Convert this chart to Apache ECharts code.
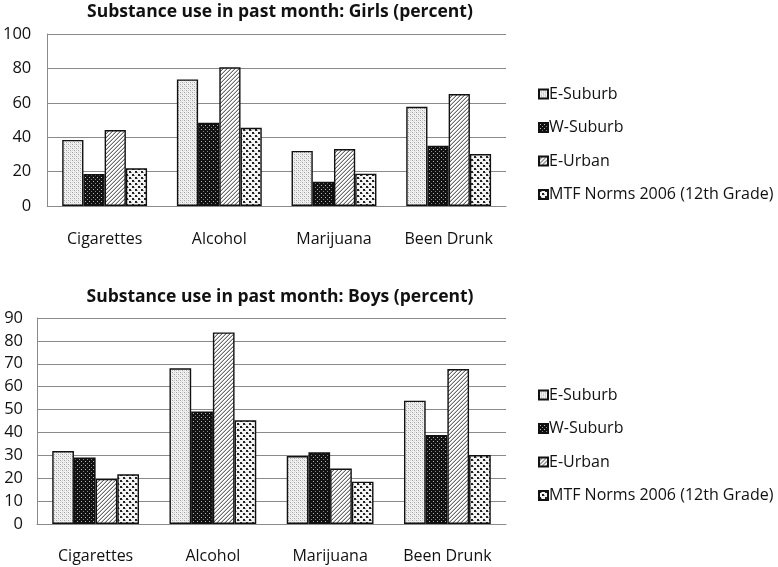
<!DOCTYPE html>
<html>
<head>
<meta charset="utf-8">
<script src="https://cdn.jsdelivr.net/npm/echarts@6/dist/echarts.min.js"></script>
<style>html,body{margin:0;padding:0;background:#fff}#c{width:778px;height:567px}</style>
</head>
<body>
<div id="c"></div>
<script>
var categories = ['Cigarettes', 'Alcohol', 'Marijuana', 'Been Drunk'];
var seriesNames = ['E-Suburb', 'W-Suburb', 'E-Urban', 'MTF Norms 2006 (12th Grade)'];
var girlsESuburb = [38.4, 73.6, 32, 57.7];
var girlsWSuburb = [18.6, 48.4, 14.1, 35];
var girlsEUrban = [44.2, 80.6, 33.1, 65.1];
var girlsMTF = [21.9, 45.5, 18.8, 30.2];
var boysESuburb = [31.9, 68, 29.7, 53.9];
var boysWSuburb = [29, 49.1, 31.3, 38.9];
var boysEUrban = [19.7, 83.7, 24.2, 67.7];
var boysMTF = [21.7, 45.3, 18.5, 30.1];
var girlsTitle = 'Substance use in past month: Girls (percent)';
var boysTitle = 'Substance use in past month: Boys (percent)';

function pat(kind) {
  var c = document.createElement('canvas');
  var s = kind === 'mtf' ? 6 : 4;
  c.width = s; c.height = s;
  var g = c.getContext('2d');
  function px(x, y, col, w, h) { g.fillStyle = col; g.fillRect(x, y, w || 1, h || 1); }
  if (kind === 'es') {
    px(0, 0, '#f2f2f2', s, s);
    px(0, 0, '#a0a0a0'); px(2, 2, '#a0a0a0'); px(2, 0, '#cfcfcf'); px(0, 2, '#cfcfcf');
    px(1, 1, '#e0e0e0'); px(3, 3, '#e0e0e0');
  } else if (kind === 'ws') {
    px(0, 0, '#111', s, s);
    px(1, 1, '#bbb'); px(3, 3, '#888');
  } else if (kind === 'eu') {
    px(0, 0, '#fff', s, s);
    for (var x = 0; x < s; x++) for (var y = 0; y < s; y++) {
      if ((x + y) % 4 === 3) px(x, y, '#6a6a6a');
      else if ((x + y) % 4 === 2) px(x, y, '#c4c4c4');
    }
  } else {
    px(0, 0, '#f4f4f4', s, s);
    px(0, 0, '#222', 2, 2); px(3, 3, '#222', 2, 2);
    px(2, 1, '#999'); px(5, 4, '#999');
  }
  return { image: c, repeat: 'repeat' };
}
var fills = [pat('es'), pat('ws'), pat('eu'), pat('mtf')];

var chart = echarts.init(document.getElementById('c'), null, { renderer: 'canvas' });
var txt = '#111';
var font = 'Open Sans';

function makeSeries(name, data, idx, axisIdx) {
  return {
    type: 'bar', name: name, data: data,
    xAxisIndex: axisIdx, yAxisIndex: axisIdx,
    barGap: '0%', barCategoryGap: '26%',
    itemStyle: { color: fills[idx], borderColor: '#111', borderWidth: 1.4 },
    emphasis: { disabled: true },
    animation: false
  };
}

var legendBase = {
  orient: 'vertical', left: 533, itemWidth: 9, itemHeight: 9, itemGap: 15.5,
  icon: 'rect', selectedMode: false,
  textStyle: { fontFamily: font, fontSize: 16, color: txt, lineHeight: 18, padding: [0, 0, 0, -4] },
  data: seriesNames
};

var option = {
  backgroundColor: '#fff',
  animation: false,
  title: [
    { text: girlsTitle, left: 275, top: -2, textAlign: 'center',
      textStyle: { fontFamily: font, fontWeight: 'bold', fontSize: 17.5, color: txt } },
    { text: boysTitle, left: 275, top: 283, textAlign: 'center',
      textStyle: { fontFamily: font, fontWeight: 'bold', fontSize: 17.5, color: txt } }
  ],
  legend: [
    Object.assign({}, legendBase, { top: 80 }),
    Object.assign({}, legendBase, { top: 381 })
  ],
  grid: [
    { left: 46, right: 272, top: 34, height: 172 },
    { left: 37, right: 272, top: 318, height: 206 }
  ],
  xAxis: [0, 1].map(function (i) {
    return {
      type: 'category', data: categories, gridIndex: i,
      axisLine: { lineStyle: { color: '#8a8a8a', width: 1 } },
      axisTick: { show: false },
      axisLabel: { interval: 0, fontFamily: font, fontSize: 16, color: txt, margin: i === 0 ? 25 : 24 }
    };
  }),
  yAxis: [
    { type: 'value', gridIndex: 0, min: 0, max: 100, interval: 20,
      axisLine: { show: true, lineStyle: { color: '#8a8a8a' } },
      axisTick: { show: false },
      splitLine: { lineStyle: { color: '#8a8a8a' } },
      axisLabel: { fontFamily: font, fontSize: 16.5, color: txt, margin: 16 } },
    { type: 'value', gridIndex: 1, min: 0, max: 90, interval: 10,
      axisLine: { show: true, lineStyle: { color: '#8a8a8a' } },
      axisTick: { show: false },
      splitLine: { lineStyle: { color: '#8a8a8a' } },
      axisLabel: { fontFamily: font, fontSize: 16.5, color: txt, margin: 14 } }
  ],
  series: [
    makeSeries(seriesNames[0], girlsESuburb, 0, 0),
    makeSeries(seriesNames[1], girlsWSuburb, 1, 0),
    makeSeries(seriesNames[2], girlsEUrban, 2, 0),
    makeSeries(seriesNames[3], girlsMTF, 3, 0),
    makeSeries(seriesNames[0], boysESuburb, 0, 1),
    makeSeries(seriesNames[1], boysWSuburb, 1, 1),
    makeSeries(seriesNames[2], boysEUrban, 2, 1),
    makeSeries(seriesNames[3], boysMTF, 3, 1)
  ]
};
chart.setOption(option);
</script>
</body>
</html>
